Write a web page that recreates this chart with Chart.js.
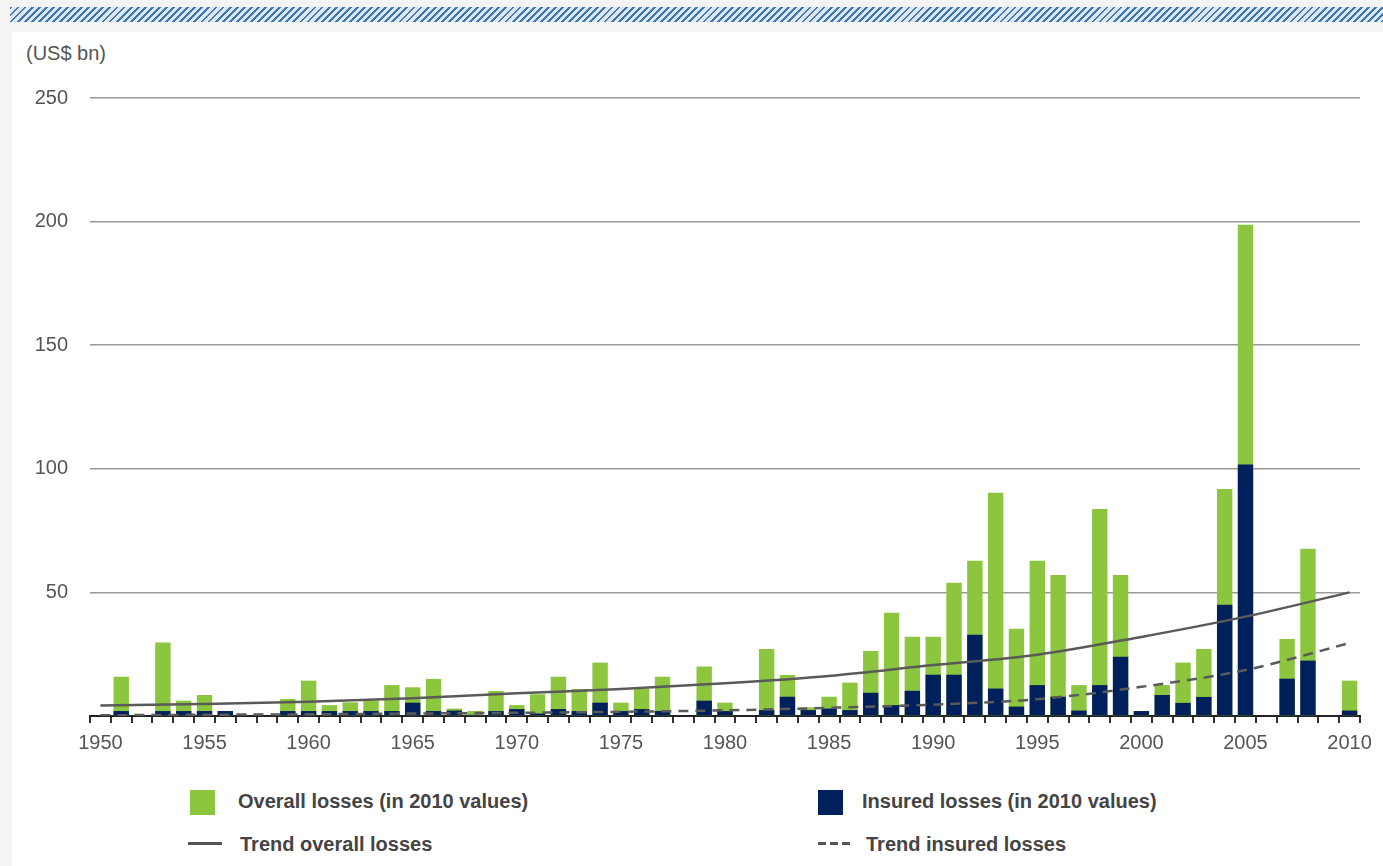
<!DOCTYPE html>
<html>
<head>
    <title>Natural catastrophe losses 1950-2010</title>
    <script src="https://cdn.jsdelivr.net/npm/chart.js@4.4.0/dist/chart.umd.min.js"></script>
    <style>
    body {
        margin: 0;
        width: 1383px;
        height: 866px;
        background: #f4f4f4;
        font-family: "Liberation Sans", Arial, sans-serif;
        overflow: hidden;
        position: relative;
    }
    #stripe {
        position: absolute; left: 10px; top: 7px; width: 1373px; height: 15px;
        background: repeating-linear-gradient(135deg, #3d78b3 0px, #3d78b3 2px, #dfe8f1 2px, #dfe8f1 5px);
    }
    #panel {
        position: absolute; left: 12px; top: 32px; width: 1371px; height: 834px;
        background: #fff;
    }
    #unit {
        position: absolute; left: 26px; top: 42px;
        font-size: 20px; color: #555;
    }
    #container {
        position: absolute; left: 0; top: 0; width: 1383px; height: 776px;
    }
    .leg { position: absolute; font-size: 20px; font-weight: bold; color: #444; line-height: 24px; }
    .box { position: absolute; width: 25px; height: 25px; }
    .ln  { position: absolute; height: 3px; }
    </style>
</head>
<body>
  <div id="stripe"></div>
  <div id="panel"></div>
  <div id="unit">(US$ bn)</div>
  <div id="container"><canvas id="myCanvas"></canvas></div>

  <div class="box" style="left:190px;top:790px;background:#8cc63f;"></div>
  <div class="leg" style="left:238px;top:789px;">Overall losses (in 2010 values)</div>
  <div class="box" style="left:818px;top:790px;background:#00205b;"></div>
  <div class="leg" style="left:862px;top:789px;">Insured losses (in 2010 values)</div>
  <div class="ln" style="left:188px;top:842px;width:34px;background:#555;"></div>
  <div class="leg" style="left:240px;top:832px;">Trend overall losses</div>
  <div class="ln" style="left:818px;top:842px;width:32px;background:repeating-linear-gradient(90deg,#555 0px,#555 8px,transparent 8px,transparent 12px);"></div>
  <div class="leg" style="left:866px;top:832px;">Trend insured losses</div>

  <script>
    var years = [];
    for (var y = 1950; y <= 2010; y++) years.push(String(y));

    // US$ bn, 2010 values, 1950 .. 2010
    var overallLosses = [
      0, 15.9, 0, 29.7, 6.2, 8.5, 2, 0, 0, 6.9,
      14.3, 4.4, 5.5, 6.2, 12.5, 11.6, 15, 3, 2, 10.1,
      4.4, 8.8, 15.9, 10.9, 21.6, 5.4, 10.9, 15.9, 0, 20,
      5.4, 0, 27.1, 16.6, 3.5, 7.8, 13.5, 26.3, 41.8, 32.1,
      32.1, 53.9, 62.8, 90.3, 35.3, 62.8, 57, 12.5, 83.7, 57,
      2, 12.5, 21.6, 27.1, 91.8, 198.7, 0, 31.1, 67.7, 0,
      14.3
    ];
    var insuredLosses = [
      0, 2, 0, 2, 2, 2, 2, 0, 0, 2,
      2, 2, 2, 2, 2, 5.4, 2, 2.2, 0.5, 2,
      2.8, 1, 2.8, 2, 5.4, 2, 2.8, 2, 0, 6.2,
      2, 0, 2.4, 7.8, 2.4, 3, 2.4, 9.4, 4.4, 10.2,
      16.7, 16.7, 32.9, 11.1, 3.8, 12.5, 7.8, 2.2, 12.5, 24,
      2, 8.5, 5.3, 7.7, 45, 101.7, 0, 15.1, 22.4, 0,
      2.2
    ];

    // trend curves every five years
    var trendYears = ["1950", "1955", "1960", "1965", "1970", "1975", "1980", "1985", "1990", "1995", "2000", "2005", "2010"];
    var trendOverall = [4.2, 4.9, 5.8, 7.2, 9.2, 10.9, 13.2, 16.2, 20.6, 24.8, 32, 40.2, 50];
    var trendInsured = [0.3, 0.5, 0.7, 1.0, 1.3, 1.7, 2.3, 3.3, 4.6, 6.8, 11.8, 18.6, 29.5];

    var yTicks = [0, 50, 100, 150, 200, 250];

    function onYears(vals) {
      return years.map(function(yr) {
        var k = trendYears.indexOf(yr);
        return k >= 0 ? vals[k] : null;
      });
    }

    new Chart(document.getElementById("myCanvas"), {
      type: 'bar',
      data: {
        labels: years,
        datasets: [
          {
            type: 'line',
            label: 'Trend overall losses',
            data: onYears(trendOverall),
            borderColor: '#5a5a5a',
            borderWidth: 2.5,
            pointRadius: 0,
            spanGaps: true,
            cubicInterpolationMode: 'monotone',
            order: 0
          },
          {
            type: 'line',
            label: 'Trend insured losses',
            data: onYears(trendInsured),
            borderColor: '#5a5a5a',
            borderWidth: 2.5,
            borderDash: [10, 7],
            pointRadius: 0,
            spanGaps: true,
            cubicInterpolationMode: 'monotone',
            order: 0
          },
          {
            label: 'Insured losses (in 2010 values)',
            data: insuredLosses,
            backgroundColor: '#00205b',
            grouped: false,
            order: 1
          },
          {
            label: 'Overall losses (in 2010 values)',
            data: overallLosses,
            backgroundColor: '#8cc63f',
            grouped: false,
            order: 2
          }
        ]
      },
      options: {
        responsive: true,
        maintainAspectRatio: false,
        animation: false,
        layout: { padding: { top: 98, right: 23, bottom: 0, left: 0 } },
        datasets: { bar: { barPercentage: 0.74, categoryPercentage: 1.0 } },
        plugins: {
          legend: { display: false },
          tooltip: { enabled: false }
        },
        scales: {
          x: {
            grid: {
              display: true,
              offset: true,
              drawOnChartArea: false,
              drawTicks: true,
              tickLength: 7,
              color: '#333',
              lineWidth: 2
            },
            border: { display: true, color: '#222', width: 2 },
            ticks: {
              autoSkip: false,
              maxRotation: 0,
              padding: 8,
              color: '#555',
              font: { family: 'Liberation Sans', size: 20 },
              callback: function(v, i) {
                var yr = years[i];
                return (+yr) % 5 === 0 ? yr : '';
              }
            },
            afterFit: function(s) { s.height = 60; }
          },
          y: {
            min: yTicks[0],
            max: yTicks[yTicks.length - 1],
            afterBuildTicks: function(s) { s.ticks = yTicks.map(function(v) { return { value: v }; }); },
            grid: {
              drawTicks: false,
              color: function(c) { return c.tick && c.tick.value === 0 ? 'rgba(0,0,0,0)' : '#9a9a9a'; },
              lineWidth: 1.5
            },
            border: { display: false },
            ticks: {
              padding: 22,
              color: '#555',
              font: { family: 'Liberation Sans', size: 20 },
              callback: function(v) { return v === 0 ? '' : v; }
            },
            afterFit: function(s) { s.width = 90; }
          }
        }
      }
    });
  </script>
</body>
</html>
